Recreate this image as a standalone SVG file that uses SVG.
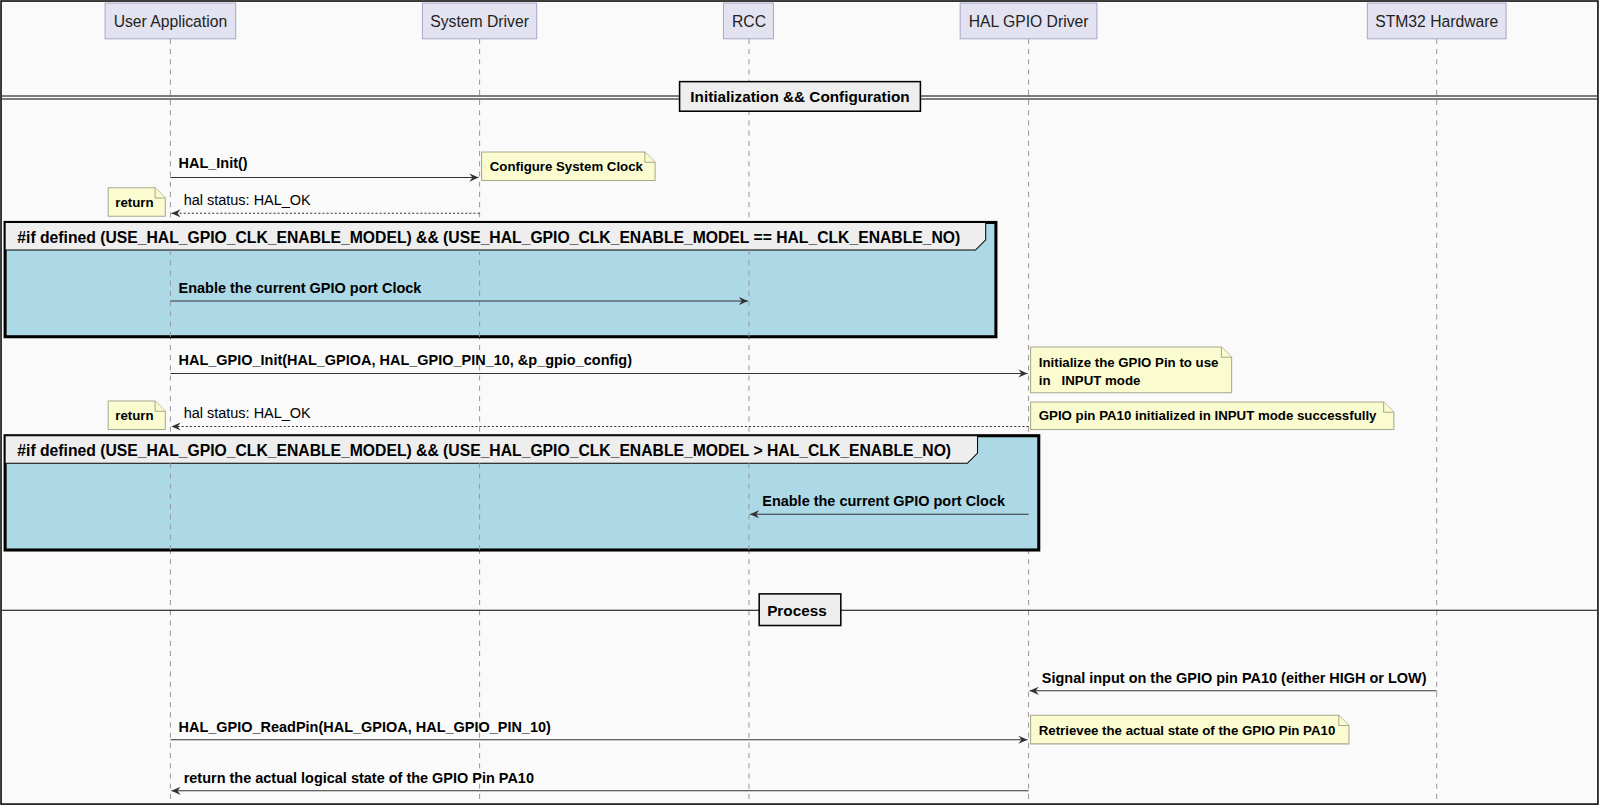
<svg xmlns="http://www.w3.org/2000/svg" width="1600" height="805" viewBox="0 0 1600 805">
<defs>
<style>
text{font-family:"Liberation Sans",Arial,sans-serif;fill:#000}
.b{font-weight:bold;font-size:14.2px}
.nb{font-weight:bold;font-size:13px}
.n{font-size:14.2px}
.p{font-size:15.4px;fill:#222}
.part{fill:#e2e2f0;stroke:#a8a8c8;stroke-width:1}
.life{stroke:#999;stroke-width:1;stroke-dasharray:5,5}
.note{fill:#fbfbd0;stroke:#a8a890;stroke-width:1}
.msg{stroke:#333;stroke-width:1;fill:none}
.ret{stroke:#333;stroke-width:1;fill:none;stroke-dasharray:2,2}
</style>
<marker id="ah" markerWidth="10" markerHeight="8" refX="9" refY="4" orient="auto" markerUnits="userSpaceOnUse"><path d="M0,0 L9,4 L0,8 L3,4 z" fill="#333"/></marker>
</defs>
<rect width="1600" height="805" fill="#fff"/>
<g transform="scale(1.0204)">
<rect x="1" y="1" width="1565" height="787" fill="#fafafa" stroke="#000" stroke-width="1.5"/>
<g id="lifelines">
<line class="life" x1="167" y1="38" x2="167" y2="785"/>
<line class="life" x1="470" y1="38" x2="470" y2="785"/>
<line class="life" x1="734" y1="38" x2="734" y2="785"/>
<line class="life" x1="1008" y1="38" x2="1008" y2="785"/>
<line class="life" x1="1408" y1="38" x2="1408" y2="785"/>
</g>
<g id="p_user"><rect class="part" x="103" y="3" width="128" height="35"/><text class="p" x="167" y="26" text-anchor="middle">User Application</text></g>
<g id="p_sys"><rect class="part" x="414" y="3" width="112" height="35"/><text class="p" x="470" y="26" text-anchor="middle">System Driver</text></g>
<g id="p_rcc"><rect class="part" x="709" y="3" width="49" height="35"/><text class="p" x="734" y="26" text-anchor="middle">RCC</text></g>
<g id="p_hal"><rect class="part" x="941" y="3" width="134" height="35"/><text class="p" x="1008" y="26" text-anchor="middle">HAL GPIO Driver</text></g>
<g id="p_stm"><rect class="part" x="1340" y="3" width="136" height="35"/><text class="p" x="1408" y="26" text-anchor="middle">STM32 Hardware</text></g>

<g id="div_init">
<line x1="2" y1="94" x2="1565" y2="94" stroke="#000"/><line x1="2" y1="97" x2="1565" y2="97" stroke="#000"/>
<rect x="666" y="80" width="236" height="29" fill="#eee" stroke="#000" stroke-width="1.5"/>
<text x="784" y="100" text-anchor="middle" font-weight="bold" font-size="15">Initialization &amp;&amp; Configuration</text>
</g>

<g id="alt1">
<rect x="5" y="218" width="971" height="112" fill="#add8e6" stroke="#000" stroke-width="3"/>
<path d="M5,218 H966 V235 L956,245 H5 Z" fill="#eee" stroke="#000" stroke-width="1"/>
<text x="17" y="238" font-weight="bold" font-size="15.4">#if defined (USE_HAL_GPIO_CLK_ENABLE_MODEL) &amp;&amp; (USE_HAL_GPIO_CLK_ENABLE_MODEL == HAL_CLK_ENABLE_NO)</text>
</g>
<g id="alt2">
<rect x="5" y="427" width="1013" height="112" fill="#add8e6" stroke="#000" stroke-width="3"/>
<path d="M5,427 H958 V444 L948,454 H5 Z" fill="#eee" stroke="#000" stroke-width="1"/>
<text x="17" y="447" font-weight="bold" font-size="15.4">#if defined (USE_HAL_GPIO_CLK_ENABLE_MODEL) &amp;&amp; (USE_HAL_GPIO_CLK_ENABLE_MODEL &gt; HAL_CLK_ENABLE_NO)</text>
</g>
<g id="lifelines_over">
<line class="life" x1="167" y1="245" x2="167" y2="330"/>
<line class="life" x1="470" y1="245" x2="470" y2="330"/>
<line class="life" x1="734" y1="245" x2="734" y2="330"/>
<line class="life" x1="167" y1="454" x2="167" y2="539"/>
<line class="life" x1="470" y1="454" x2="470" y2="539"/>
<line class="life" x1="734" y1="454" x2="734" y2="539"/>
</g>

<g id="div_proc">
<line x1="2" y1="598" x2="1565" y2="598" stroke="#000"/>
<rect x="744" y="582" width="80" height="31" fill="#eee" stroke="#000" stroke-width="1.5"/>
<text x="781" y="604" text-anchor="middle" font-weight="bold" font-size="15">Process</text>
</g>

<g id="notes">
<g id="n1"><path class="note" d="M472,149 H632 L642,159 V177 H472 Z"/><path class="note" d="M632,149 V159 H642" fill="none"/><text class="nb" x="480" y="168">Configure System Clock</text></g>
<g id="n2"><path class="note" d="M106,184 H152 L162,194 V212 H106 Z"/><path class="note" d="M152,184 V194 H162" fill="none"/><text class="nb" x="113" y="203">return</text></g>
<g id="n3"><path class="note" d="M1010,340 H1197 L1207,350 V385 H1010 Z"/><path class="note" d="M1197,340 V350 H1207" fill="none"/><text class="nb" x="1018" y="360">Initialize the GPIO Pin to use</text><text class="nb" x="1018" y="377" xml:space="preserve">in   INPUT mode</text></g>
<g id="n4"><path class="note" d="M106,393 H152 L162,403 V421 H106 Z"/><path class="note" d="M152,393 V403 H162" fill="none"/><text class="nb" x="113" y="412">return</text></g>
<g id="n5"><path class="note" d="M1010,394 H1356 L1366,404 V421 H1010 Z"/><path class="note" d="M1356,394 V404 H1366" fill="none"/><text class="nb" x="1018" y="412">GPIO pin PA10 initialized in INPUT mode successfully</text></g>
<g id="n6"><path class="note" d="M1010,701 H1312 L1322,711 V729 H1010 Z"/><path class="note" d="M1312,701 V711 H1322" fill="none"/><text class="nb" x="1018" y="720">Retrievee the actual state of the GPIO Pin PA10</text></g>
</g>

<g id="connectors">
<line class="msg" x1="167" y1="174" x2="469" y2="174" marker-end="url(#ah)"/>
<text class="b" x="175" y="165">HAL_Init()</text>
<line class="ret" x1="470" y1="209" x2="168" y2="209" marker-end="url(#ah)"/>
<text class="n" x="180" y="201">hal status: HAL_OK</text>
<line class="msg" x1="167" y1="295" x2="733" y2="295" marker-end="url(#ah)"/>
<text class="b" x="175" y="287">Enable the current GPIO port Clock</text>
<line class="msg" x1="167" y1="366" x2="1007" y2="366" marker-end="url(#ah)"/>
<text class="b" x="175" y="358">HAL_GPIO_Init(HAL_GPIOA, HAL_GPIO_PIN_10, &amp;p_gpio_config)</text>
<line class="ret" x1="1008" y1="418" x2="168" y2="418" marker-end="url(#ah)"/>
<text class="n" x="180" y="410">hal status: HAL_OK</text>
<line class="msg" x1="1008" y1="504" x2="735" y2="504" marker-end="url(#ah)"/>
<text class="b" x="747" y="496">Enable the current GPIO port Clock</text>
<line class="msg" x1="1408" y1="677" x2="1009" y2="677" marker-end="url(#ah)"/>
<text class="b" x="1021" y="669">Signal input on the GPIO pin PA10 (either HIGH or LOW)</text>
<line class="msg" x1="167" y1="725" x2="1007" y2="725" marker-end="url(#ah)"/>
<text class="b" x="175" y="717">HAL_GPIO_ReadPin(HAL_GPIOA, HAL_GPIO_PIN_10)</text>
<line class="msg" x1="1008" y1="775" x2="168" y2="775" marker-end="url(#ah)"/>
<text class="b" x="180" y="767">return the actual logical state of the GPIO Pin PA10</text>
</g>
</g>
</svg>
